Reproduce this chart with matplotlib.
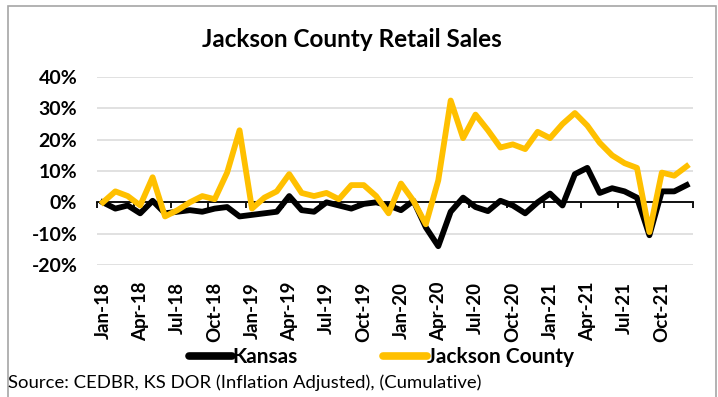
import numpy as np
import matplotlib
matplotlib.use("Agg")
import matplotlib.pyplot as plt
from matplotlib.patches import Rectangle

plt.rcParams['font.family'] = ['Lato', 'DejaVu Sans']

# monthly data, Jan-18 .. Dec-21 (percent, cumulative)
months = [f"{m}-{y}" for y in ["18", "19", "20", "21"]
          for m in ["Jan", "Feb", "Mar", "Apr", "May", "Jun",
                    "Jul", "Aug", "Sep", "Oct", "Nov", "Dec"]]
kansas = [0, -2, -1, -3.5, 0.5, -3.5, -3, -2.5, -3, -2, -1.5, -4.5,
          -4, -3.5, -3, 2, -2.5, -3, 0, -1, -2, -0.5, 0, -1,
          -2.5, 0.5, -8, -14, -3, 1.5, -1.5, -2.8, 0.5, -1, -3.5, 0,
          2.8, -1, 9, 11, 3, 4.5, 3.5, 1.5, -10.5, 3.5, 3.5, 5.5]
jackson = [0, 3.5, 2, -1, 8, -4.5, -2.5, 0, 2, 1, 9.5, 23,
           -2, 1.5, 3.5, 9, 3, 2, 3, 1, 5.5, 5.5, 2, -3.5,
           6, 0.5, -7, 7, 32.5, 20.5, 28, 23, 17.5, 18.5, 17, 22.5,
           20.5, 25, 28.5, 24.5, 19, 15, 12.5, 11, -9.5, 9.5, 8.5, 11.5]
yticks = [-20, -10, 0, 10, 20, 30, 40]

x = np.arange(len(months))

fig = plt.figure(figsize=(7.18, 3.97), dpi=100)
ax = fig.add_axes([0.1347, 0.3325, 0.8303, 0.4735])

ax.plot(x, kansas, color="black", lw=4.2, solid_joinstyle="round", label="Kansas")
ax.plot(x, jackson, color="#FFC000", lw=4.2, solid_joinstyle="round", label="Jackson County")

ax.set_xlim(-0.5, len(months) - 0.5)
ax.set_ylim(-20, 40)
ax.set_yticks(yticks)
ax.set_yticklabels([f"{v}%" for v in yticks], fontsize=14, fontweight="bold")
ax.tick_params(axis="y", length=0, pad=14)
ax.grid(axis="y", color="#D9D9D9", lw=1.1)
ax.set_axisbelow(True)

for s in ["left", "right", "top"]:
    ax.spines[s].set_visible(False)
ax.spines["bottom"].set_position(("data", 0))
ax.spines["bottom"].set_linewidth(1.3)
ax.spines["bottom"].set_zorder(1.5)
ax.set_xticks(np.arange(0, len(months) + 1, 3) - 0.5)
ax.set_xticklabels([])
ax.tick_params(axis="x", length=4, width=1.3, direction="out")

sec = ax.secondary_xaxis("bottom")
sec.set_xticks(x[::3])
sec.set_xticklabels(months[::3], rotation=90, fontsize=13.5, fontweight="bold")
sec.tick_params(length=0, pad=12)
sec.spines["bottom"].set_visible(False)

fig.suptitle("Jackson County Retail Sales", x=0.49, y=0.93, fontsize=17.5,
             fontweight="bold")

leg = fig.legend(loc="center", bbox_to_anchor=(0.531, 0.101), ncol=2, frameon=False,
                 handlelength=2.1, handletextpad=0.0, columnspacing=4.1,
                 prop={"size": 15, "weight": "bold"})
for h in leg.get_lines():
    h.set_linewidth(5.5)
    h.set_solid_capstyle("round")

fig.text(0.011, 0.035, "Source: CEDBR, KS DOR (Inflation Adjusted), (Cumulative)",
         fontsize=13.3, ha="left", va="center")

fig.patches.append(Rectangle((8 / 718, -0.05), 708 / 718, 1 - 6 / 397 + 0.05,
                             transform=fig.transFigure, fill=False,
                             edgecolor="#A6A6A6", lw=1.2))

fig.savefig("out.png", dpi=100)
